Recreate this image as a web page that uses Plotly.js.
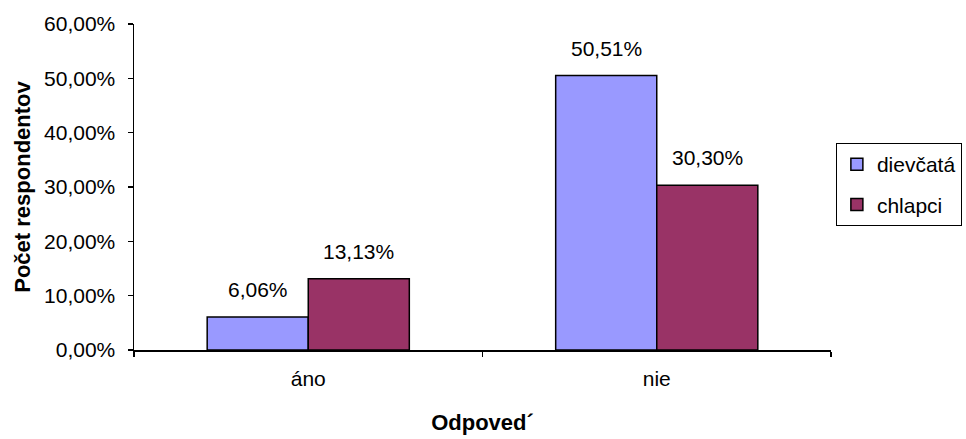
<!DOCTYPE html>
<html>
<head>
<meta charset="utf-8">
<script src="https://cdn.plot.ly/plotly-3.0.1.min.js"></script>
<style>
  html, body { margin: 0; padding: 0; background: #ffffff; }
  #chart { width: 966px; height: 439px; }
</style>
</head>
<body>
<div id="chart"></div>
<script>
// Answer categories and share of respondents per group
const categories = ['áno', 'nie'];
const seriesNames = ['dievčatá', 'chlapci'];
const dievcata = [0.0606, 0.5051];
const chlapci = [0.1313, 0.3030];
const seriesColors = ['#9999FF', '#993366'];

const FONT = 'Liberation Sans, Arial, sans-serif';
const TXT = 21;
const W = 966, H = 439;
const M = { l: 134, r: 135, t: 24, b: 89, autoexpand: false };
const BARGAP = 0.42;

const seriesValues = [dievcata, chlapci];

const traces = seriesValues.map((vals, i) => ({
  type: 'bar',
  name: seriesNames[i],
  x: categories,
  y: vals,
  legendgroup: 'g' + i,
  marker: { color: seriesColors[i], line: { color: '#000000', width: 1.5 } },
  hoverinfo: 'skip'
}));

// Value labels above each bar, shifted to the bar's slot within its group
const plotW = W - M.l - M.r;
const catW = plotW / categories.length;
const barW = catW * (1 - BARGAP) / seriesValues.length;
const fmt = v => (v * 100).toFixed(2).replace('.', ',') + '%';
const annotations = [];
seriesValues.forEach((vals, i) => {
  const shift = (i - (seriesValues.length - 1) / 2) * barW;
  vals.forEach((v, j) => {
    annotations.push({
      x: categories[j], y: v, xref: 'x', yref: 'y',
      text: fmt(v), showarrow: false,
      xanchor: 'center', yanchor: 'bottom',
      xshift: shift, yshift: 14,
      font: { family: FONT, size: TXT, color: '#000000' }
    });
  });
});

const layout = {
  width: W, height: H,
  margin: M,
  paper_bgcolor: '#ffffff',
  plot_bgcolor: '#ffffff',
  separators: ', ',
  barmode: 'group',
  bargap: BARGAP,
  bargroupgap: 0,
  showlegend: true,
  font: { family: FONT, size: TXT, color: '#000000' },
  xaxis: {
    type: 'category',
    showline: true, linecolor: '#000000', linewidth: 1.5,
    ticks: 'outside', tickson: 'boundaries', ticklen: 5, tickwidth: 1.5, tickcolor: '#000000',
    ticklabelstandoff: 9,
    showgrid: false, zeroline: false,
    tickfont: { family: FONT, size: TXT, color: '#000000' },
    title: { text: 'Odpoved´', standoff: 26, font: { family: FONT, size: 22, weight: 'bold', color: '#000000' } }
  },
  yaxis: {
    range: [0, 0.6], dtick: 0.1, tick0: 0,
    tickformat: '.2%',
    showline: true, linecolor: '#000000', linewidth: 1.5,
    ticks: 'outside', ticklen: 5, tickwidth: 1.5, tickcolor: '#000000',
    ticklabelstandoff: 8,
    showgrid: false, zeroline: false,
    tickfont: { family: FONT, size: TXT, color: '#000000' },
    title: { text: 'Počet respondentov', standoff: 7, font: { family: FONT, size: 22, weight: 'bold', color: '#000000' } }
  },
  legend: {
    x: 1.007, y: 0.635, xanchor: 'left', yanchor: 'top',
    bgcolor: '#ffffff', bordercolor: '#000000', borderwidth: 1,
    traceorder: 'grouped', tracegroupgap: 10,
    font: { family: FONT, size: TXT, color: '#000000' }
  },
  annotations: annotations
};

Plotly.newPlot('chart', traces, layout, { displayModeBar: false, staticPlot: true });
</script>
</body>
</html>
